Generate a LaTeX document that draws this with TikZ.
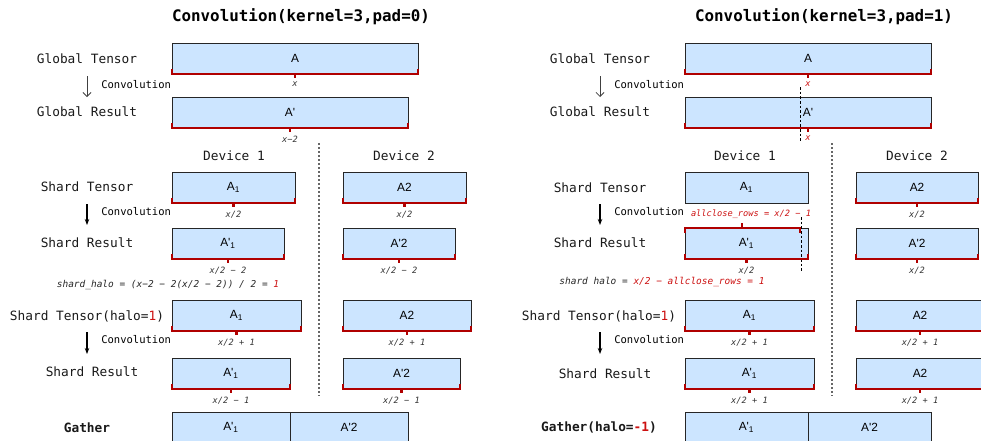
\documentclass[tikz,border=0pt]{standalone}
\usepackage{fontspec}
\setmonofont{DejaVu Sans Mono}
\newfontfamily\boxfont{Liberation Sans}
\usetikzlibrary{arrows.meta,positioning,calc}

\definecolor{boxblue}{HTML}{CCE5FF}
\definecolor{brkred}{HTML}{B00000}
\definecolor{txtred}{HTML}{CC1111}

\tikzset{
  tensor/.style={draw=black!85, fill=boxblue, line width=0.75pt, anchor=north west,
    inner sep=0pt, outer sep=0pt, minimum height=31*0.75pt,
    font=\boxfont\fontsize{8.9}{10}\selectfont},
  wd/.style={minimum width=#1*0.75pt},
  brk/.style={draw=brkred, line width=1.6pt},
  dim/.style={font=\ttfamily\itshape\fontsize{6.5}{8}\selectfont, text=black!80, inner sep=1pt},
  formula/.style={font=\ttfamily\itshape\fontsize{7.1}{8}\selectfont, text=black!85, inner sep=1pt},
  rowlbl/.style={font=\ttfamily\fontsize{9.6}{11}\selectfont, text=black!90},
  convlbl/.style={font=\ttfamily\fontsize{7.9}{9}\selectfont, anchor=west, inner sep=0pt},
  title/.style={font=\ttfamily\bfseries\fontsize{11.9}{14}\selectfont},
  sep/.style={draw=black!60, line width=1pt, dash pattern=on 1.5pt off 1.5pt},
  cut/.style={draw=black, line width=0.6pt, dash pattern=on 2pt off 1.5pt},
  convthin/.style={draw=black!75, line width=0.6pt, -{Straight Barb[length=3pt]}},
  convthick/.style={draw=black, line width=1.2pt, -{Stealth[length=4.5pt]}},
}

\begin{document}
\begin{tikzpicture}[x=0.75pt,y=-0.75pt]
  \useasboundingbox (0,0) rectangle (981,440);
  \clip (0,0) rectangle (981,440);

  % ---- pad=0 ----
  \node[title] (t1) at (301,17) {Convolution(kernel=3,pad=0)};

  \node[rowlbl] (gt1) at (87,59) {Global Tensor};
  \node[tensor, wd=246] (gA1) at (172,43) {A};
  \draw[brk] ($(gA1.south west)+(0,-5)$) |- (gA1.south east) -- +(0,-5) (gA1.south) -- +(0,4) node[dim, below=1pt] {x};
  \coordinate (c1a) at (87,76); \coordinate (c1b) at (87,97);
  \draw[convthin] (c1a) -- (c1b);
  \node[convlbl] (cv1) at (101,85) {Convolution};
  \node[rowlbl] (gr1) at (87,112) {Global Result};
  \node[tensor, wd=236] (gR1) at (172,97) {A\textquotesingle};
  \draw[brk] ($(gR1.south west)+(0,-5)$) |- (gR1.south east) -- +(0,-5) (gR1.south) -- +(0,4) node[dim, below=1pt] {x−2};

  \draw[sep] (319,143) -- (319,396);
  \node[rowlbl] (dv11) at (234,156) {Device 1};
  \node[rowlbl] (dv12) at (404,156) {Device 2};

  % shards
  \node[rowlbl] (st1) at (87,187) {Shard Tensor};
  \node[tensor, wd=123] (sA1) at (172,172) {A\textsubscript{1}};
  \node[tensor, wd=123] (sA2) at (343,172) {A2};
  \draw[brk] ($(sA1.south west)+(0,-5)$) |- (sA1.south east) -- +(0,-5) (sA1.south) -- +(0,4) node[dim, below=1pt] {x/2};
  \draw[brk] ($(sA2.south west)+(0,-5)$) |- (sA2.south east) -- +(0,-5) (sA2.south) -- +(0,4) node[dim, below=1pt] {x/2};
  \coordinate (c2a) at (87,204); \coordinate (c2b) at (87,225);
  \draw[convthick] (c2a) -- (c2b);
  \node[convlbl] (cv2) at (101,212) {Convolution};
  \node[rowlbl] (sr1) at (87,243) {Shard Result};
  \node[tensor, wd=112] (sR1) at (172,228) {A\textquotesingle\textsubscript{1}};
  \node[tensor, wd=112] (sR2) at (343,228) {A\textquotesingle 2};
  \draw[brk] ($(sR1.south west)+(0,-5)$) |- (sR1.south east) -- +(0,-5) (sR1.south) -- +(0,4) node[dim, below=1pt] {x/2 − 2};
  \draw[brk] ($(sR2.south west)+(0,-5)$) |- (sR2.south east) -- +(0,-5) (sR2.south) -- +(0,4) node[dim, below=1pt] {x/2 − 2};
  \node[formula] (hf1) at (168,285) {shard\_halo = (x−2 − 2(x/2 − 2)) / 2 = \textcolor{txtred}{1}};

  % shards with halo
  \node[rowlbl] (hl1) at (87,316) {Shard Tensor(halo=\textcolor{txtred}{1})};
  \node[tensor, wd=129] (hA1) at (172,300) {A\textsubscript{1}};
  \node[tensor, wd=128] (hA2) at (343,300) {A2};
  \draw[brk] ($(hA1.south west)+(0,-5)$) |- (hA1.south east) -- +(0,-5) (hA1.south) -- +(0,4) node[dim, below=1pt] {x/2 + 1};
  \draw[brk] ($(hA2.south west)+(0,-5)$) |- (hA2.south east) -- +(0,-5) (hA2.south) -- +(0,4) node[dim, below=1pt] {x/2 + 1};
  \coordinate (c3a) at (87,332); \coordinate (c3b) at (87,354);
  \draw[convthick] (c3a) -- (c3b);
  \node[convlbl] (cv3) at (101,340) {Convolution};
  \node[rowlbl] (hr1) at (92,372) {Shard Result};
  \node[tensor, wd=118] (hR1) at (172,358) {A\textquotesingle\textsubscript{1}};
  \node[tensor, wd=117] (hR2) at (343,358) {A\textquotesingle 2};
  \draw[brk] ($(hR1.south west)+(0,-5)$) |- (hR1.south east) -- +(0,-5) (hR1.south) -- +(0,4) node[dim, below=1pt] {x/2 − 1};
  \draw[brk] ($(hR2.south west)+(0,-5)$) |- (hR2.south east) -- +(0,-5) (hR2.south) -- +(0,4) node[dim, below=1pt] {x/2 − 1};

  \node[rowlbl, font=\ttfamily\bfseries\fontsize{9.6}{11}\selectfont] (ga1) at (87,428) {Gather};
  \node[tensor, wd=118] (gG1) at (172,412) {A\textquotesingle\textsubscript{1}};
  \node[tensor, wd=118] (gG2) at (290,412) {A\textquotesingle 2};

  % ---- pad=1 ----
  \node[title] (t2) at (824,17) {Convolution(kernel=3,pad=1)};

  \node[rowlbl] (gt2) at (600,59) {Global Tensor};
  \node[tensor, wd=246] (gA2) at (685,43) {A};
  \draw[brk] ($(gA2.south west)+(0,-5)$) |- (gA2.south east) -- +(0,-5) (gA2.south) -- +(0,4) node[dim, below=1pt, text=txtred] {x};
  \coordinate (c4a) at (600,76); \coordinate (c4b) at (600,97);
  \draw[convthin] (c4a) -- (c4b);
  \node[convlbl] (cv4) at (614,85) {Convolution};
  \node[rowlbl] (gr2) at (600,112) {Global Result};
  \node[tensor, wd=246] (gR2) at (685,97) {A\textquotesingle};
  \draw[brk] ($(gR2.south west)+(0,-5)$) |- (gR2.south east) -- +(0,-5) (gR2.south) -- +(0,4) node[dim, below=1pt, text=txtred] {x};
  \draw[cut] (800,87) -- (800,141);

  \draw[sep] (832,143) -- (832,396);
  \node[rowlbl] (dv21) at (745,156) {Device 1};
  \node[rowlbl] (dv22) at (917,156) {Device 2};

  % shards
  \node[rowlbl] (st2) at (600,188) {Shard Tensor};
  \node[tensor, wd=123] (rA1) at (685,172) {A\textsubscript{1}};
  \node[tensor, wd=122] (rA2) at (856,172) {A2};
  \draw[brk] ($(rA2.south west)+(0,-5)$) |- (rA2.south east) -- +(0,-5) (rA2.south) -- +(0,4) node[dim, below=1pt] {x/2};
  \coordinate (c5a) at (600,204); \coordinate (c5b) at (600,225);
  \draw[convthick] (c5a) -- (c5b);
  \node[convlbl] (cv5) at (614,212) {Convolution};
  \node[dim, text=txtred] (acr) at (751,214) {allclose\_rows = x/2 − 1};
  \node[rowlbl] (sr2) at (600,243) {Shard Result};
  \node[tensor, wd=123] (rR1) at (685,228) {A\textquotesingle\textsubscript{1}};
  \node[tensor, wd=122] (rR2) at (856,228) {A\textquotesingle 2};
  \draw[brk] ($(rR1.north west)+(0,5)$) -- (rR1.north west) -- (800,228) -- (800,233) (742,228) -- (742,223);
  \draw[cut] (801,217) -- (801,272);
  \draw[brk] ($(rR1.south west)+(0,-5)$) |- (rR1.south east) -- +(0,-5) (rR1.south) -- +(0,4) node[dim, below=1pt] {x/2};
  \draw[brk] ($(rR2.south west)+(0,-5)$) |- (rR2.south east) -- +(0,-5) (rR2.south) -- +(0,4) node[dim, below=1pt] {x/2};
  \node[formula] (hf2) at (662,282) {shard halo = \textcolor{txtred}{x/2 − allclose\_rows = 1}};

  % shards with halo
  \node[rowlbl] (hl2) at (599,316) {Shard Tensor(halo=\textcolor{txtred}{1})};
  \node[tensor, wd=129] (rhA1) at (685,300) {A\textsubscript{1}};
  \node[tensor, wd=128] (rhA2) at (856,300) {A2};
  \draw[brk] ($(rhA1.south west)+(0,-5)$) |- (rhA1.south east) -- +(0,-5) (rhA1.south) -- +(0,4) node[dim, below=1pt] {x/2 + 1};
  \draw[brk] ($(rhA2.south west)+(0,-5)$) |- (rhA2.south east) -- +(0,-5) (rhA2.south) -- +(0,4) node[dim, below=1pt] {x/2 + 1};
  \coordinate (c6a) at (600,332); \coordinate (c6b) at (600,354);
  \draw[convthick] (c6a) -- (c6b);
  \node[convlbl] (cv6) at (614,340) {Convolution};
  \node[rowlbl] (hr2) at (605,374) {Shard Result};
  \node[tensor, wd=129] (rhR1) at (685,358) {A\textquotesingle\textsubscript{1}};
  \node[tensor, wd=128] (rhR2) at (856,358) {A2};
  \draw[brk] ($(rhR1.south west)+(0,-5)$) |- (rhR1.south east) -- +(0,-5) (rhR1.south) -- +(0,4) node[dim, below=1pt] {x/2 + 1};
  \draw[brk] ($(rhR2.south west)+(0,-5)$) |- (rhR2.south east) -- +(0,-5) (rhR2.south) -- +(0,4) node[dim, below=1pt] {x/2 + 1};

  \node[rowlbl, font=\ttfamily\bfseries\fontsize{9.6}{11}\selectfont] (ga2) at (599,427) {Gather(halo=\textcolor{txtred}{-1})};
  \node[tensor, wd=123] (rG1) at (685,412) {A\textquotesingle\textsubscript{1}};
  \node[tensor, wd=123] (rG2) at (808,412) {A\textquotesingle 2};
\end{tikzpicture}
\end{document}
